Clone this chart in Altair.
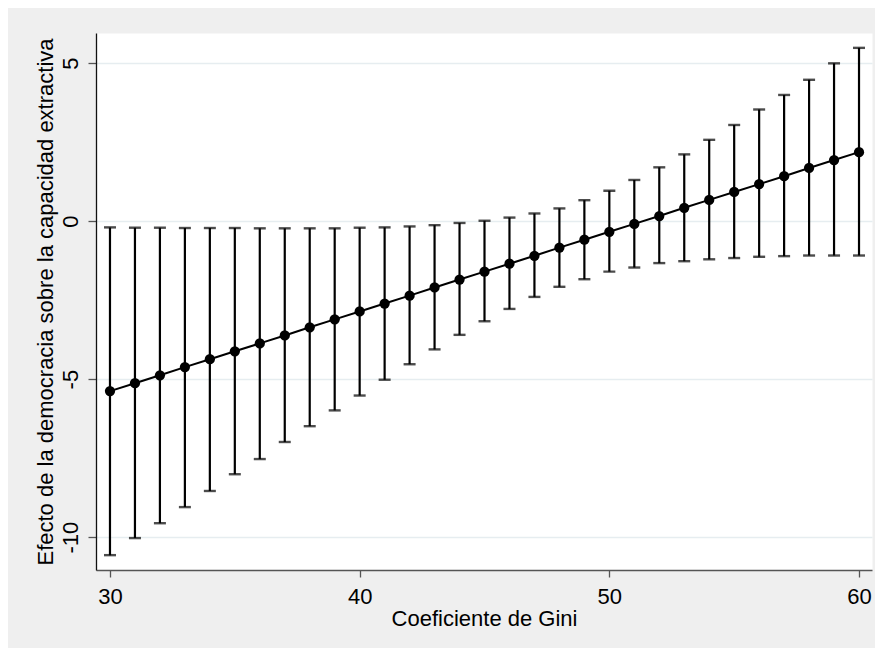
import altair as alt
import pandas as pd

# Gini coefficient values (x)
gini = [30, 31, 32, 33, 34, 35, 36, 37, 38, 39, 40, 41, 42, 43, 44, 45,
        46, 47, 48, 49, 50, 51, 52, 53, 54, 55, 56, 57, 58, 59, 60]

# Point estimates (marginal effect of democracy)
estimate = [-5.38, -5.13, -4.88, -4.62, -4.37, -4.12, -3.87, -3.62, -3.36, -3.11,
            -2.86, -2.61, -2.36, -2.10, -1.85, -1.60, -1.35, -1.10, -0.84, -0.59,
            -0.34, -0.09, 0.16, 0.42, 0.67, 0.92, 1.17, 1.42, 1.68, 1.93, 2.18]

# Confidence interval bounds
ci_low = [-10.57, -10.03, -9.56, -9.05, -8.54, -8.01, -7.53, -6.99, -6.49, -5.99,
          -5.52, -5.02, -4.53, -4.06, -3.60, -3.17, -2.78, -2.40, -2.08, -1.84,
          -1.60, -1.47, -1.33, -1.27, -1.21, -1.17, -1.13, -1.11, -1.09, -1.09, -1.09]
ci_high = [-0.20, -0.21, -0.21, -0.22, -0.22, -0.22, -0.23, -0.23, -0.23, -0.23,
           -0.21, -0.20, -0.17, -0.13, -0.06, 0.01, 0.11, 0.24, 0.40, 0.66,
           0.96, 1.30, 1.70, 2.11, 2.57, 3.04, 3.53, 3.99, 4.47, 4.99, 5.48]

x_ticks = [30, 40, 50, 60]
y_ticks = [-10, -5, 0, 5]

df = pd.DataFrame({"gini": gini, "est": estimate, "lo": ci_low, "hi": ci_high})

FONT = "Liberation Sans"
xscale = alt.Scale(domain=[29.44, 60.52], nice=False, zero=False)
yscale = alt.Scale(domain=[-11.04, 5.95], nice=False, zero=False)

x_axis = alt.Axis(
    values=x_ticks, title="Coeficiente de Gini", grid=False,
    domainColor="#555555", domainWidth=1.3, tickColor="#555555", tickWidth=1.3,
    tickSize=7, labelFont=FONT, labelFontSize=22, labelColor="#000000",
    labelBaseline="alphabetic", labelPadding=26, labelFlush=False,
    titleFont=FONT, titleFontSize=22, titleFontWeight="normal", titleColor="#000000",
    titleY=55, titleBaseline="alphabetic",
)
y_axis = alt.Axis(
    values=y_ticks, title="Efecto de la democracia sobre la capacidad extractiva",
    grid=True, gridColor="#E6EDF0", gridWidth=1.5,
    domainColor="#111111", domainWidth=1.3, tickColor="#555555", tickWidth=1.3,
    tickSize=8, labelFont=FONT, labelFontSize=22, labelColor="#000000",
    labelAngle=270, labelAlign="center", labelBaseline="alphabetic",
    labelPadding=11, labelFlush=False, labelExpr="'' + datum.value",
    titleFont=FONT, titleFontSize=22, titleFontWeight="normal", titleColor="#000000",
    titleAngle=270, titleAlign="center", titleBaseline="alphabetic",
    titleX=-44, titleY=268.5,
)


def X():
    return alt.X("gini:Q", scale=xscale, axis=x_axis)


def Y(field):
    return alt.Y(field, type="quantitative", scale=yscale, axis=y_axis)


base = alt.Chart(df)

rules = base.mark_rule(color="black", strokeWidth=2.2).encode(
    x=X(), y=Y("lo"), y2="hi:Q",
)
cap_lo = base.mark_tick(color="black", orient="horizontal", size=12, thickness=2.4).encode(
    x=X(), y=Y("lo"),
)
cap_hi = base.mark_tick(color="black", orient="horizontal", size=12, thickness=2.4).encode(
    x=X(), y=Y("hi"),
)
line = base.mark_line(color="black", strokeWidth=2).encode(
    x=X(), y=Y("est"),
)
pts = base.mark_circle(color="black", size=105, opacity=1).encode(
    x=X(), y=Y("est"),
)

chart = (
    alt.layer(rules, cap_lo, cap_hi, line, pts)
    .properties(
        width=776, height=537,
        autosize=alt.AutoSizeParams(type="none"),
        padding={"left": 88, "top": 25, "right": 3, "bottom": 78},
        background="#EFEFEF",
    )
    .configure_view(fill="white", stroke="transparent")
)

chart.save("out.html", embed_options={"renderer": "svg", "actions": False})
